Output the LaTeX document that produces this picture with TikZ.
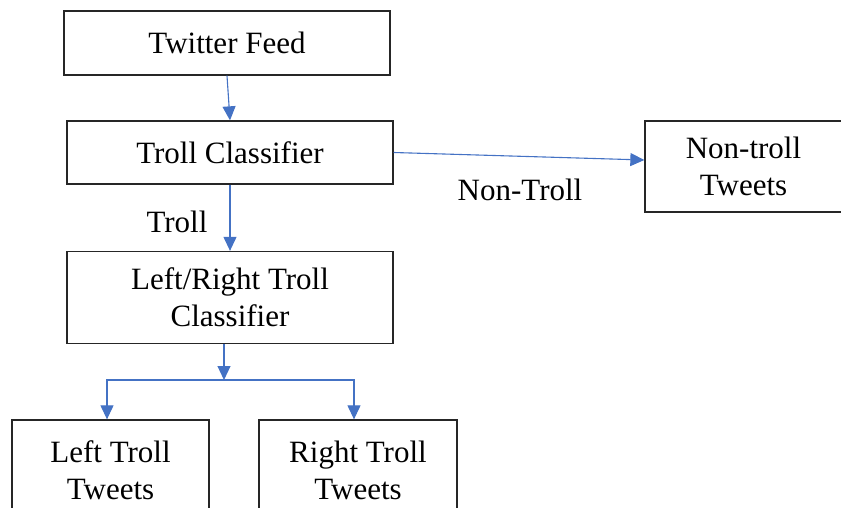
\documentclass[tikz,border=0pt]{standalone}
\usepackage{fontspec}
\setmainfont{Liberation Serif}
\usepackage{tikz}
\usetikzlibrary{arrows.meta}

\definecolor{flowblue}{HTML}{4472C4}

\begin{document}
\begin{tikzpicture}[x=1pt,y=-1pt,
        box/.style={draw=black!85, line width=1.3pt, inner sep=0pt, align=center, font=\fontsize{31}{37}\selectfont},
        lbl/.style={inner sep=0pt, font=\fontsize{31}{37}\selectfont},
        flow/.style={draw=flowblue, line width=1.1pt, -{Triangle[length=14pt, width=13pt]}}]
        \useasboundingbox (0,0) rectangle (841,508);
        \clip (0,0) rectangle (841,508);
        \node [box, minimum width=326pt, minimum height=64pt] (feed) at (227,43) {Twitter Feed};
        \node [box, minimum width=326pt, minimum height=63pt] (trollcls) at (230,152.5) {Troll Classifier};
        \node [box, minimum width=197pt, minimum height=91pt] (nontroll) at (743.5,166.5) {Non-troll\\Tweets};
        \node [box, minimum width=326pt, minimum height=92pt] (lrcls) at (230,297.5) {Left/Right Troll\\Classifier};
        \node [box, minimum width=197pt, minimum height=100pt] (left) at (110.5,470) {Left Troll\\Tweets};
        \node [box, minimum width=198pt, minimum height=100pt] (right) at (358,470) {Right Troll\\Tweets};
        \node [lbl] (trolllbl) at (177,222) {Troll};
        \node [lbl] (nontrolllbl) at (520,190) {Non-Troll};
        \coordinate (split) at (224,380);
        \draw [flow] (feed.south) -- (trollcls.north);
        \draw [flow] (trollcls.south) -- (lrcls.north);
        \draw [flow] (trollcls.east) -- ([yshift=6.5pt]nontroll.west);
        \draw [flow] ([xshift=-6pt]lrcls.south) -- (split);
        \draw [flow] (split) -| ([xshift=-3.5pt]left.north);
        \draw [flow] (split) -| ([xshift=-4pt]right.north);
    \end{tikzpicture}
\end{document}
